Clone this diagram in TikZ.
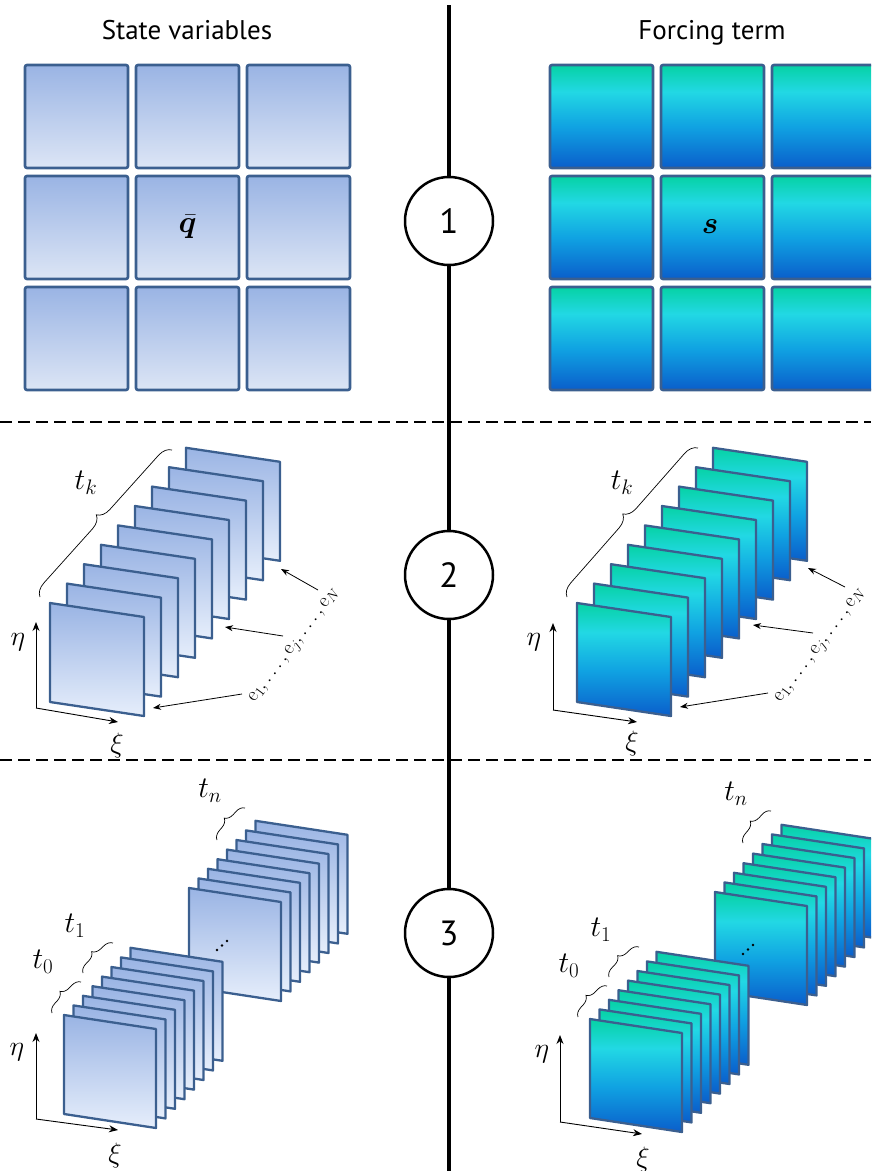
\RequirePackage{fix-cm}
\documentclass[tikz,border=0pt]{standalone}
\usepackage{fontspec}
\usepackage{amsmath}
\usepackage{bm}
\newfontfamily\hdrfont{PT Sans}
\usetikzlibrary{arrows.meta,decorations.pathreplacing}
\definecolor{sblue}{HTML}{3B5F8F}
\definecolor{stop}{HTML}{9AB4E4}
\definecolor{sbot}{HTML}{E6EEFB}
\definecolor{gbot}{HTML}{DCE5F5}
\definecolor{ftop}{HTML}{06D2A4}
\definecolor{fcyan}{HTML}{22D8E4}
\definecolor{fmid}{HTML}{10A2E2}
\definecolor{fbot}{HTML}{0A5ECB}
\pgfdeclareverticalshading{forcing}{100bp}{color(0bp)=(fbot); color(25bp)=(fbot); color(45bp)=(fmid); color(62bp)=(fcyan); color(75bp)=(ftop); color(100bp)=(ftop)}
\newcommand\pfr[3]{\path[#3] (#1,-#2) -- ++(\fw,-\fs) -- ++(0,-\fh) -- ++(-\fw,\fs) -- cycle;}
\newcommand\elist{$\mathrm{e}_1,\ldots,\mathrm{e}_j,\ldots,\mathrm{e}_N$}
\begin{document}
\begin{tikzpicture}[x=1pt,y=1pt,
  sframe/.style={draw=sblue, line width=2.3pt, line join=round, top color=stop, bottom color=sbot},
  fframe/.style={draw=sblue, line width=2.3pt, line join=round, shading=forcing},
  sbox/.style={draw=sblue, line width=2.6pt, rounded corners=2pt, top color=stop, bottom color=gbot},
  fbox/.style={draw=sblue, line width=2.6pt, rounded corners=2pt, shading=forcing},
  hdr/.style={font=\hdrfont\fontsize{27}{27}\selectfont},
  stepcirc/.style={circle, draw, line width=2.5pt, fill=white, minimum size=88pt, inner sep=0pt, font=\hdrfont\fontsize{35}{35}\selectfont},
  sepline/.style={line width=2pt, dash pattern=on 12pt off 6pt},
  axisarrow/.style={line width=0.9pt, -{Stealth[length=9pt,width=7pt]}},
  earrow/.style={line width=0.8pt, -{Stealth[length=8pt,width=6pt]}},
  bracel/.style={decorate, decoration={brace, amplitude=#1}, line width=0.7pt},
  mlbl/.style={font=\fontsize{30}{30}\selectfont, inner sep=0pt},
  glbl/.style={font=\fontsize{31}{31}\selectfont, inner sep=0pt},
  albl/.style={font=\fontsize{28}{28}\selectfont, inner sep=0pt},
  elbl/.style={font=\fontsize{20}{20}\selectfont, inner sep=0pt, rotate=53}
]
\useasboundingbox (0,0) rectangle (871,-1171);
\clip (0,0) rectangle (871,-1171);

% ---- centre line and step circles ----
\coordinate (ltop) at (449,-5);
\coordinate (lbot) at (449,-1171);
\node[stepcirc] (c1) at (449,-221) {1};
\node[stepcirc] (c2) at (449,-575) {2};
\node[stepcirc] (c3) at (449,-933) {3};
\draw[line width=3.5pt] (ltop) -- (c1.north);
\draw[line width=3.5pt] (c1.south) -- (c2.north);
\draw[line width=3.5pt] (c2.south) -- (c3.north);
\draw[line width=3.5pt] (c3.south) -- (lbot);

% ---- separators ----
\coordinate (s1a) at (0,-422); \coordinate (s1b) at (871,-422);
\coordinate (s2a) at (0,-760); \coordinate (s2b) at (871,-760);
\draw[sepline] (s1a) -- (s1b);
\draw[sepline] (s2a) -- (s2b);

% ---- headers ----
\node[hdr] (hl) at (187,-30) {State variables};
\node[hdr] (hr) at (712,-33) {Forcing term};

% ---- section 1 grids ----
\foreach \c in {0,1,2}{\foreach \r in {0,1,2}{
  \path[sbox] (25+111*\c,-65-111*\r) rectangle ++(103,-103);
  \path[fbox] (550+111*\c,-65-111*\r) rectangle ++(103,-103);
}}
\node[glbl] (qbar) at (187.5,-227) {$\bar{\boldsymbol{q}}$};
\node[glbl] (sv) at (710,-227) {$\boldsymbol{s}$};

% ---- section 2 ----
\def\fw{94}\def\fs{14}\def\fh{99}
\foreach \i in {8,7,...,0}{\pgfmathsetmacro\xx{50+17*\i}\pgfmathsetmacro\yy{603-19.4*\i}\pfr{\xx}{\yy}{sframe}}
\foreach \i in {8,7,...,0}{\pgfmathsetmacro\xx{577+17*\i}\pgfmathsetmacro\yy{603-19.4*\i}\pfr{\xx}{\yy}{fframe}}

\coordinate (bk1a) at (40,-597); \coordinate (bk1b) at (172,-450);
\draw[bracel=13pt] (bk1a) -- (bk1b);
\node[mlbl] (tk1) at (86,-483) {$t_k$};
\coordinate (bk2a) at (567,-597); \coordinate (bk2b) at (698,-448);
\draw[bracel=13pt] (bk2a) -- (bk2b);
\node[mlbl] (tk2) at (622,-483) {$t_k$};

% axes section 2
\coordinate (o2l) at (36,-708); \coordinate (eta2l) at (36,-622); \coordinate (xi2l) at (118,-722);
\draw[axisarrow] (o2l) -- (eta2l);
\draw[axisarrow] (o2l) -- (xi2l);
\node[albl] (eta2ln) at (18,-642) {$\eta$};
\node[albl] (xi2ln) at (117,-745) {$\xi$};
\coordinate (o2r) at (553,-710); \coordinate (eta2r) at (553,-623); \coordinate (xi2r) at (637,-722);
\draw[axisarrow] (o2r) -- (eta2r);
\draw[axisarrow] (o2r) -- (xi2r);
\node[albl] (eta2rn) at (534,-642) {$\eta$};
\node[albl] (xi2rn) at (632,-743) {$\xi$};

% e labels and arrows
\node[elbl] (el) at (295,-646) {\elist};
\coordinate (el1s) at (242,-694); \coordinate (el1t) at (153,-708);
\coordinate (eljs) at (283,-636); \coordinate (eljt) at (225,-627);
\coordinate (elNs) at (318,-590); \coordinate (elNt) at (281,-569);
\draw[earrow] (el1s) -- (el1t);
\draw[earrow] (eljs) -- (eljt);
\draw[earrow] (elNs) -- (elNt);
\node[elbl] (er) at (821,-646) {\elist};
\coordinate (er1s) at (768,-693); \coordinate (er1t) at (680,-707);
\coordinate (erjs) at (813,-633); \coordinate (erjt) at (753,-625);
\coordinate (erNs) at (845,-587); \coordinate (erNt) at (808,-568);
\draw[earrow] (er1s) -- (er1t);
\draw[earrow] (erjs) -- (erjt);
\draw[earrow] (erNs) -- (erNt);

% ---- section 3 ----
\def\fw{92}\def\fs{14}\def\fh{99}
% left
\foreach \i in {7,6,...,0}{\pgfmathsetmacro\xx{189+9.5*\i}\pgfmathsetmacro\yy{888-9.6*\i}\pfr{\xx}{\yy}{sframe}}
\foreach \i in {7,6,...,0}{\pgfmathsetmacro\xx{64+9.5*\i}\pgfmathsetmacro\yy{1015-9.6*\i}\pfr{\xx}{\yy}{sframe}}
% right
\foreach \i in {7,6,...,0}{\pgfmathsetmacro\xx{715+9.5*\i}\pgfmathsetmacro\yy{892-9.6*\i}\pfr{\xx}{\yy}{fframe}}
\foreach \i in {7,6,...,0}{\pgfmathsetmacro\xx{590+9.5*\i}\pgfmathsetmacro\yy{1019-9.6*\i}\pfr{\xx}{\yy}{fframe}}

% ellipsis dots
\foreach \p in {(217,-950),(222,-945.5),(227,-941),(743,-954),(748,-949.5),(753,-945)}{\fill \p circle (1.3pt);}

% braces section 3
\coordinate (b0la) at (52,-1013); \coordinate (b0lb) at (81,-982);
\coordinate (b1la) at (83,-973); \coordinate (b1lb) at (113,-943);
\coordinate (bnla) at (217,-840); \coordinate (bnlb) at (245,-808);
\draw[bracel=9pt] (b0la) -- (b0lb);
\draw[bracel=9pt] (b1la) -- (b1lb);
\draw[bracel=9pt] (bnla) -- (bnlb);
\node[mlbl] (t0l) at (43,-962) {$t_0$};
\node[mlbl] (t1l) at (75,-926) {$t_1$};
\node[mlbl] (tnl) at (210,-791) {$t_n$};
\coordinate (b0ra) at (578,-1017); \coordinate (b0rb) at (607,-986);
\coordinate (b1ra) at (609,-977); \coordinate (b1rb) at (639,-947);
\coordinate (bnra) at (743,-843); \coordinate (bnrb) at (771,-811);
\draw[bracel=9pt] (b0ra) -- (b0rb);
\draw[bracel=9pt] (b1ra) -- (b1rb);
\draw[bracel=9pt] (bnra) -- (bnrb);
\node[mlbl] (t0r) at (569,-966) {$t_0$};
\node[mlbl] (t1r) at (601,-930) {$t_1$};
\node[mlbl] (tnr) at (736,-794) {$t_n$};

% axes section 3
\coordinate (o3l) at (36,-1119); \coordinate (eta3l) at (36,-1033); \coordinate (xi3l) at (118,-1130);
\draw[axisarrow] (o3l) -- (eta3l);
\draw[axisarrow] (o3l) -- (xi3l);
\node[albl] (eta3ln) at (17,-1052) {$\eta$};
\node[albl] (xi3ln) at (115,-1155) {$\xi$};
\coordinate (o3r) at (560,-1122); \coordinate (eta3r) at (560,-1035); \coordinate (xi3r) at (642,-1134);
\draw[axisarrow] (o3r) -- (eta3r);
\draw[axisarrow] (o3r) -- (xi3r);
\node[albl] (eta3rn) at (542,-1054) {$\eta$};
\node[albl] (xi3rn) at (643,-1159) {$\xi$};
\end{tikzpicture}
\end{document}
